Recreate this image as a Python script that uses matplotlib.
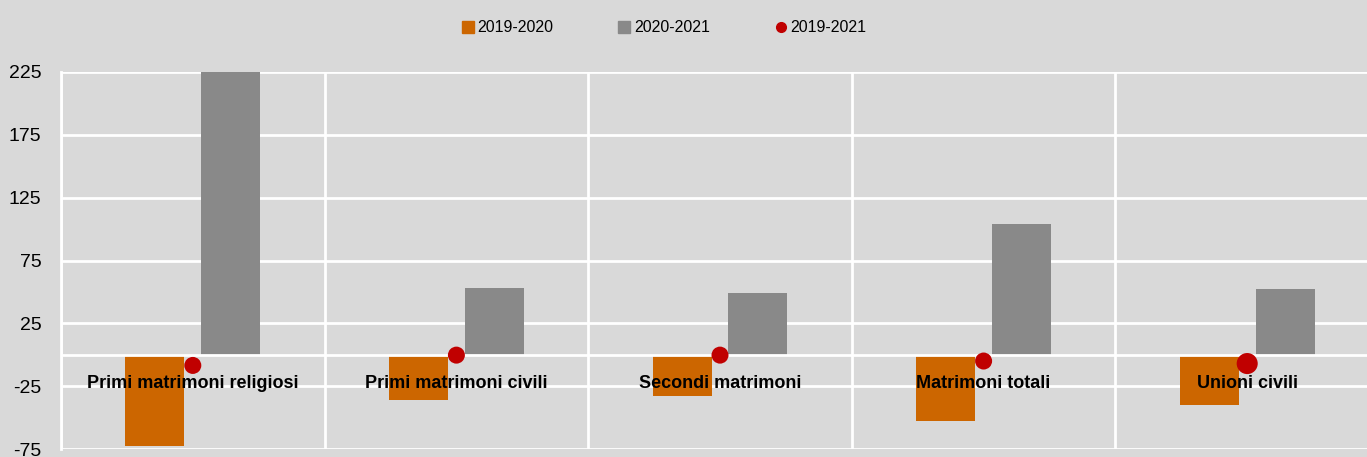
import matplotlib
matplotlib.use("Agg")
import matplotlib.pyplot as plt
from matplotlib.lines import Line2D
import numpy as np

categories = ["Primi matrimoni religiosi", "Primi matrimoni civili", "Secondi matrimoni",
              "Matrimoni totali", "Unioni civili"]
s_2019_2020 = [-73, -36, -33, -53, -40]
s_2020_2021 = [230, 53.5, 48.8, 103.7, 52]
s_2019_2021 = [-8.5, -0.3, -0.3, -5, -7]
dot_sizes = [150, 150, 150, 150, 230]
yticks = [-75, -25, 25, 75, 125, 175, 225]

BG = "#d9d9d9"
ORANGE = "#cc6600"
GRAY = "#898989"
RED = "#c00000"
plt.rcParams["font.family"] = ["Liberation Sans", "DejaVu Sans"]

W, H = 1367, 457
fig = plt.figure(figsize=(W / 100, H / 100), dpi=100, facecolor=BG)
# axes runs a bit past the right edge, as in the reference
left, right, top, bottom = 61, 1379, 72, 449
ax = fig.add_axes([left / W, 1 - bottom / H, (right - left) / W, (bottom - top) / H])
ax.set_facecolor(BG)

x = np.arange(len(categories))
bw = 0.224
off = 0.144
ax.bar(x - off, s_2019_2020, width=bw, color=ORANGE, zorder=2)
ax.bar(x + off, s_2020_2021, width=bw, color=GRAY, zorder=2)
ax.axhline(0, color="white", lw=2, zorder=3)
ax.scatter(x, s_2019_2021, s=dot_sizes, color=RED, zorder=5, linewidths=0)

for i, name in enumerate(categories):
    ax.text(i, -23, name, ha="center", va="center", fontsize=13, fontweight="bold",
            color="black", zorder=6)

ax.set_xlim(-0.5, len(categories) - 0.5)
ax.set_ylim(-75, 225)
ax.set_yticks(yticks)
ax.set_yticklabels([str(v) for v in yticks], fontsize=14)
ax.set_xticks(np.arange(len(categories) + 1) - 0.5)
ax.set_xticklabels([])
ax.tick_params(length=0)
ax.tick_params(axis="y", pad=14)
ax.grid(True, color="white", lw=2, zorder=1)
ax.set_axisbelow(True)
for sp in ax.spines.values():
    sp.set_visible(False)
ax.spines["left"].set_visible(True)
ax.spines["left"].set_color("white")
ax.spines["left"].set_linewidth(2)

handles = [
    Line2D([], [], marker="s", ls="", color=ORANGE, markersize=9),
    Line2D([], [], marker="s", ls="", color=GRAY, markersize=9),
    Line2D([], [], marker="o", ls="", color=RED, markersize=7),
]
fig.legend(handles, ["2019-2020", "2020-2021", "2019-2021"], loc="center",
           bbox_to_anchor=(664 / W, 1 - 28 / H), ncol=3, frameon=False,
           fontsize=11.4, handlelength=0.8, handletextpad=0.2, columnspacing=4.1,
           borderpad=0, borderaxespad=0)

fig.savefig("out.png", dpi=100, facecolor=BG)
